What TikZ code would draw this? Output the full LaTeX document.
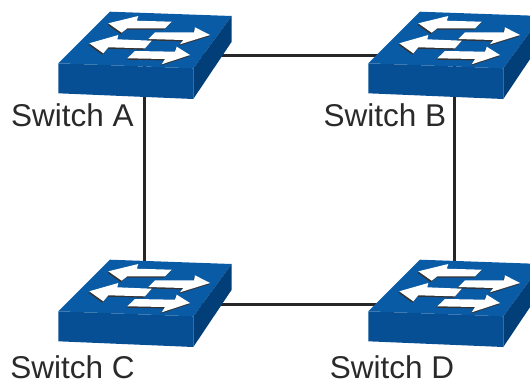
\documentclass[tikz,border=0pt]{standalone}
\usepackage{fontspec}
\setmainfont{Liberation Sans}
\definecolor{topblue}{HTML}{0A5BA6}
\definecolor{frontblue}{HTML}{064F95}
\definecolor{sideblue}{HTML}{023F78}
\definecolor{labelgray}{HTML}{2A2A2A}
\newcommand{\switcharrow}[1]{
  \fill [black!80, shift={(-1,1.4)}] #1 -- cycle;
  \fill [white] #1 -- cycle;
}
\tikzset{
  switch/.pic={
    % The box:
    \fill [topblue] (-34,-43.3) -- (87.7,-39) -- (49.3,13.3) -- (-85.7,8.3) -- cycle;
    \fill [frontblue] (-85.7,8.3) -- (49.3,13.3) -- (49.3,44) -- (-85.7,38.3) -- cycle;
    \fill [sideblue] (49.3,13.3) -- (87.7,-39) -- (87.7,-13.3) -- (49.3,44) -- cycle;
    % The arrows:
    \switcharrow{(-35.7,-31.7) -- (-5.7,-39) -- (-7.3,-34.3) -- (27.7,-33.3) -- (21,-26.7) -- (-16.7,-26.7) -- (-22.3,-22.3)}
    \switcharrow{(66,-20) -- (51,-27.7) -- (50,-22.7) -- (11,-22.7) -- (4.3,-16) -- (39.3,-15) -- (36,-10.7)}
    \switcharrow{(-54.7,-11.7) -- (-25.7,-20) -- (-26.7,-15.7) -- (7.7,-14.3) -- (1,-6.7) -- (-35.7,-7.7) -- (-40.7,-1.7)}
    \switcharrow{(46,0) -- (32.7,-8.3) -- (31,-3.3) -- (-9,-4) -- (-16.7,3.3) -- (21,4) -- (17.7,9.3)}
  },
  switchnode/.style={
    inner sep=0pt,
    minimum size=0pt
  },
  switchlabel/.style={
    inner sep=0pt,
    text=labelgray,
    font=\fontsize{31.5}{31.5}\selectfont
  },
  link/.style={
    line width=3pt,
    black!85
  }
}
\begin{document}
\begin{tikzpicture}[x=1pt, y=-1pt]

  \useasboundingbox (0, 0) rectangle (530, 381);

  \node (switch a) [switchnode] at (144, 55) {};
  \node (switch b) [switchnode] at (454, 55) {};
  \node (switch c) [switchnode] at (144, 304) {};
  \node (switch d) [switchnode] at (454, 304) {};

  \draw [link] (switch a.center) to (switch b.center) to (switch d.center) to (switch c.center) to (switch a.center);

  \pic at (switch a) {switch};
  \pic at (switch b) {switch};
  \pic [yshift=1pt] at (switch c) {switch};
  \pic [yshift=1pt] at (switch d) {switch};

  \node (label a) [switchlabel] at (72.5, 115) {Switch A};
  \node (label b) [switchlabel] at (385, 115) {Switch B};
  \node (label c) [switchlabel] at (72.5, 367) {Switch C};
  \node (label d) [switchlabel] at (392, 367) {Switch D};

\end{tikzpicture}
\end{document}
